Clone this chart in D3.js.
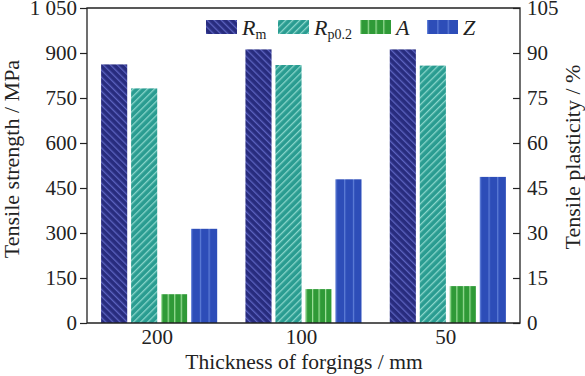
<!DOCTYPE html>
<html>
<head>
<meta charset="utf-8">
<script src="https://cdn.jsdelivr.net/npm/d3@7"></script>
<style>
  body { margin: 0; background: #fff; }
  svg text { font-family: "Liberation Serif", "Times New Roman", serif; fill: #222; }
</style>
</head>
<body>
<svg id="chart" width="585" height="376"></svg>
<script>
// data
const categories = ["200", "100", "50"];
const seriesKeys = ["Rm", "Rp02", "A", "Z"];
const rmVals = [862, 912, 912];      // MPa
const rpVals = [782, 860, 858];      // MPa
const aVals = [9.6, 11.3, 12.3];     // %
const zVals = [31.4, 47.9, 48.7];    // %
const leftTicks = [0, 150, 300, 450, 600, 750, 900, 1050];
const rightTicks = [0, 15, 30, 45, 60, 75, 90, 105];

const svg = d3.select("#chart");
const m = { left: 87, right: 520, top: 8, bottom: 323 };

const x0 = d3.scaleBand().domain(categories).range([m.left, m.right]).padding(0);
const x1 = d3.scaleBand().domain(seriesKeys).range([0, x0.bandwidth()])
  .paddingInner(0.13).paddingOuter(0.47);
const yL = d3.scaleLinear().domain([0, 1050]).range([m.bottom, m.top]);
const yR = d3.scaleLinear().domain([0, 105]).range([m.bottom, m.top]);

const style = {
  Rm:   { base: "#282c7e", line: "#5c63c0", kind: "back" },
  Rp02: { base: "#2a9c91", line: "#8ad6cb", kind: "fwd" },
  A:    { base: "#2f9a37", line: "#9ee09a", kind: "vert", n: 4 },
  Z:    { base: "#2d4db8", line: "#5f7fd8", kind: "vert", n: 3 }
};

// hatch patterns
const defs = svg.append("defs");
Object.entries(style).forEach(([k, s]) => {
  let p;
  if (s.kind === "vert") {
    p = defs.append("pattern").attr("id", "pat-" + k)
      .attr("patternUnits", "objectBoundingBox")
      .attr("width", 1 / s.n).attr("height", 1);
    p.append("rect").attr("width", 40).attr("height", 400).attr("fill", s.base);
    p.append("rect").attr("x", 0).attr("width", 1.2).attr("height", 400).attr("fill", s.line);
  } else {
    p = defs.append("pattern").attr("id", "pat-" + k)
      .attr("patternUnits", "userSpaceOnUse")
      .attr("width", 5).attr("height", 5)
      .attr("patternTransform", `rotate(${s.kind === "back" ? -45 : 45})`);
    p.append("rect").attr("width", 5).attr("height", 5).attr("fill", s.base);
    p.append("rect").attr("x", 0).attr("width", 1.3).attr("height", 5).attr("fill", s.line);
  }
});

const rows = categories.map((c, i) => ({
  cat: c,
  vals: [
    { key: "Rm", y: yL(rmVals[i]) },
    { key: "Rp02", y: yL(rpVals[i]) },
    { key: "A", y: yR(aVals[i]) },
    { key: "Z", y: yR(zVals[i]) }
  ]
}));

svg.append("g").selectAll("g").data(rows).join("g")
  .attr("transform", d => `translate(${x0(d.cat)},0)`)
  .selectAll("rect").data(d => d.vals).join("rect")
  .attr("x", d => x1(d.key))
  .attr("width", x1.bandwidth())
  .attr("y", d => d.y)
  .attr("height", d => m.bottom - d.y)
  .attr("fill", d => `url(#pat-${d.key})`);

// frame
svg.append("path")
  .attr("d", `M${m.left},${m.bottom}V${m.top}H${m.right}V${m.bottom}Z`)
  .attr("fill", "none").attr("stroke", "#222").attr("stroke-width", 1.3);

// left axis
const gL = svg.append("g").attr("transform", `translate(${m.left},0)`)
  .call(d3.axisLeft(yL).tickValues(leftTicks).tickSize(7).tickPadding(3)
    .tickFormat(v => v === 1050 ? "1 050" : v));
gL.select(".domain").remove();
gL.selectAll("line").attr("stroke", "#222").attr("stroke-width", 1.2);
gL.selectAll("text").attr("font-size", 21).attr("font-family", "Liberation Serif");

// right axis (ticks point inward)
const gR = svg.append("g").attr("transform", `translate(${m.right},0)`)
  .call(d3.axisRight(yR).tickValues(rightTicks).tickSize(0).tickPadding(7));
gR.select(".domain").remove();
gR.selectAll(".tick line").attr("x1", -7).attr("x2", 0).attr("stroke", "#222").attr("stroke-width", 1.2);
gR.selectAll("text").attr("font-size", 21).attr("font-family", "Liberation Serif");

// bottom category labels
const gB = svg.append("g").attr("transform", `translate(0,${m.bottom})`)
  .call(d3.axisBottom(x0).tickSize(0).tickPadding(6));
gB.select(".domain").remove();
gB.selectAll("text").attr("font-size", 21).attr("font-family", "Liberation Serif")
  .attr("dx", -2);

// axis titles
svg.append("text").attr("x", 304).attr("y", 369)
  .attr("text-anchor", "middle").attr("font-size", 21.5)
  .text("Thickness of forgings / mm");
svg.append("text").attr("transform", "translate(19,159) rotate(-90)")
  .attr("text-anchor", "middle").attr("font-size", 22)
  .text("Tensile strength / MPa");
svg.append("text").attr("transform", "translate(580,157) rotate(-90)")
  .attr("text-anchor", "middle").attr("font-size", 22)
  .text("Tensile plasticity / %");

// legend
const legendItems = [
  { key: "Rm", sym: "R", sub: "m", x: 206 },
  { key: "Rp02", sym: "R", sub: "p0.2", x: 278 },
  { key: "A", sym: "A", sub: "", x: 360 },
  { key: "Z", sym: "Z", sub: "", x: 427 }
];
const lg = svg.append("g").selectAll("g").data(legendItems).join("g")
  .attr("transform", d => `translate(${d.x},20)`);
lg.append("rect").attr("width", 31).attr("height", 14)
  .attr("fill", d => `url(#pat-${d.key})`);
const lt = lg.append("text").attr("x", 36).attr("y", 15).attr("font-size", 22);
lt.append("tspan").attr("font-style", "italic").text(d => d.sym);
lt.append("tspan").attr("font-size", 14).attr("dy", 4).text(d => d.sub);
</script>
</body>
</html>
